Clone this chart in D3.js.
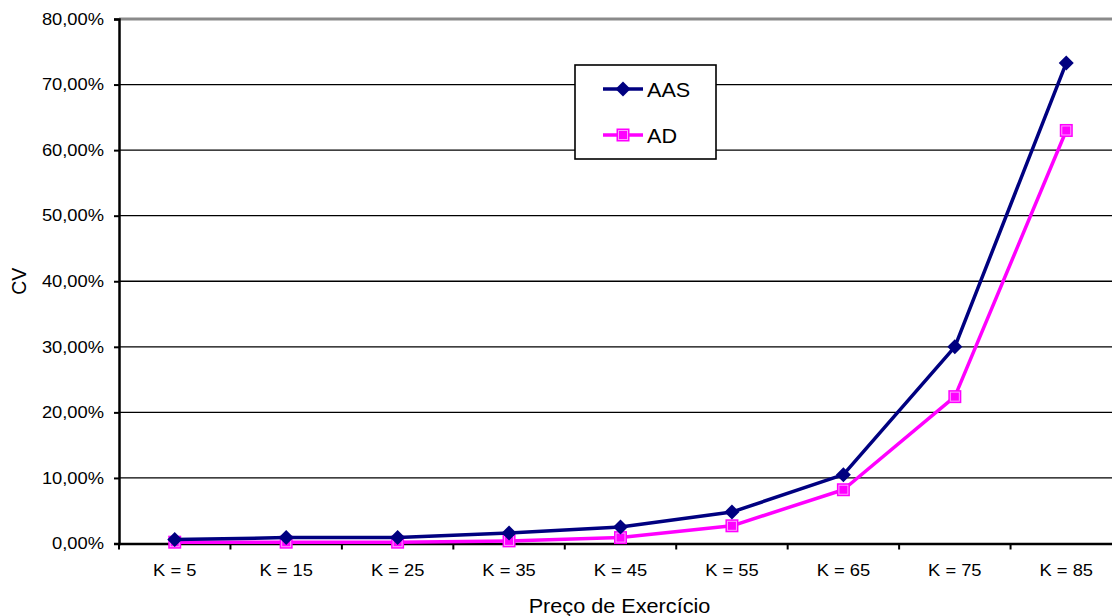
<!DOCTYPE html>
<html>
<head>
<meta charset="utf-8">
<script src="https://cdn.jsdelivr.net/npm/d3@7"></script>
<style>
  html, body { margin: 0; padding: 0; background: #fff; }
  svg { display: block; font-family: "Liberation Sans", Arial, sans-serif; }
</style>
</head>
<body>
<svg id="chart" width="1112" height="616"></svg>
<script>
// Coefficient of variation by strike price, two estimators
const categories = ["K = 5", "K = 15", "K = 25", "K = 35", "K = 45", "K = 55", "K = 65", "K = 75", "K = 85"];
const aasValues = [0.006, 0.009, 0.009, 0.016, 0.025, 0.048, 0.105, 0.300, 0.733];
const adValues  = [0.002, 0.002, 0.002, 0.004, 0.009, 0.027, 0.082, 0.224, 0.630];
const yTicks = [0, 0.1, 0.2, 0.3, 0.4, 0.5, 0.6, 0.7, 0.8];
const seriesNames = ["AAS", "AD"];

const svg = d3.select("#chart");
const plot = { left: 119, top: 19, right: 1122, bottom: 543.5 };

// widen glyphs horizontally (the chart's type is set slightly wide)
function widen(sel, factor) {
  sel.each(function () {
    const w = this.getComputedTextLength();
    this.setAttribute("textLength", w * factor);
    this.setAttribute("lengthAdjust", "spacingAndGlyphs");
  });
}

const x = d3.scaleBand().domain(categories).range([plot.left, plot.right]).padding(0);
const y = d3.scaleLinear().domain([0, 0.8]).range([plot.bottom, plot.top]);

const pt = d3.formatLocale({ decimal: ",", thousands: ".", grouping: [3], currency: ["R$", ""] });
const pctFmt = pt.format(".2%");

// gridlines
svg.append("g")
  .selectAll("line")
  .data(yTicks.filter(v => v > 0 && v < 0.8))
  .join("line")
  .attr("x1", plot.left).attr("x2", plot.right)
  .attr("y1", d => y(d)).attr("y2", d => y(d))
  .attr("stroke", "#000").attr("stroke-width", 1.3);

// top border of plot area
svg.append("line")
  .attr("x1", plot.left).attr("x2", plot.right)
  .attr("y1", y(0.8)).attr("y2", y(0.8))
  .attr("stroke", "#8a8a8a").attr("stroke-width", 3);

// y axis
const yAxis = d3.axisLeft(y).tickValues(yTicks).tickFormat(pctFmt).tickSize(5).tickPadding(10);
const gy = svg.append("g").attr("transform", `translate(${plot.left},0)`).call(yAxis);
gy.select(".domain").attr("stroke", "#000").attr("stroke-width", 2.5);
gy.selectAll(".tick line").attr("stroke", "#000").attr("stroke-width", 2);
gy.selectAll(".tick text").attr("font-size", 16.5).attr("fill", "#000")
  .attr("font-family", "Liberation Sans, Arial, sans-serif")
  .call(widen, 1.11);

// x axis (ticks between categories)
const xAxis = d3.axisBottom(x).tickSize(0).tickPadding(21);
const gx = svg.append("g").attr("transform", `translate(0,${plot.bottom})`).call(xAxis);
gx.select(".domain").attr("stroke", "#000").attr("stroke-width", 2.5);
gx.selectAll(".tick text").attr("font-size", 16.5).attr("fill", "#000")
  .attr("font-family", "Liberation Sans, Arial, sans-serif")
  .call(widen, 1.11);
gx.append("g").selectAll("line")
  .data(categories)
  .join("line")
  .attr("x1", d => x(d)).attr("x2", d => x(d))
  .attr("y1", 0).attr("y2", 6)
  .attr("stroke", "#000").attr("stroke-width", 2);

// axis titles
svg.append("text")
  .attr("x", (plot.left + plot.right) / 2 - 1).attr("y", 613)
  .attr("text-anchor", "middle").attr("font-size", 19.5).text("Preço de Exercício")
  .call(widen, 1.11);
svg.append("text")
  .attr("transform", `translate(26,${(plot.top + plot.bottom) / 2}) rotate(-90)`)
  .attr("text-anchor", "middle").attr("font-size", 19.5).text("CV");

const cx = d => x(d) + x.bandwidth() / 2;
const line = d3.line().x(d => cx(d.k)).y(d => y(d.v));

const aasData = categories.map((k, i) => ({ k, v: aasValues[i] }));
const adData = categories.map((k, i) => ({ k, v: adValues[i] }));

const navy = "#000080", magenta = "#FF00FF";

function diamond(g, px, py) {
  g.append("path")
    .attr("d", `M${px},${py - 7.5}L${px + 7.5},${py}L${px},${py + 7.5}L${px - 7.5},${py}Z`)
    .attr("fill", navy);
}
function square(g, px, py) {
  g.append("rect").attr("x", px - 6.5).attr("y", py - 6.5).attr("width", 13).attr("height", 13)
    .attr("fill", magenta);
  g.append("rect").attr("x", px - 4.5).attr("y", py - 4.5).attr("width", 9).attr("height", 9)
    .attr("fill", "none").attr("stroke", "#ff9cff").attr("stroke-width", 1);
}

// AD series
svg.append("path").datum(adData).attr("d", line)
  .attr("fill", "none").attr("stroke", magenta).attr("stroke-width", 3.5).attr("stroke-linejoin", "round");
const adMarks = svg.append("g");
adData.forEach(d => square(adMarks, cx(d.k), y(d.v)));

// AAS series
svg.append("path").datum(aasData).attr("d", line)
  .attr("fill", "none").attr("stroke", navy).attr("stroke-width", 3.5).attr("stroke-linejoin", "round");
const aasMarks = svg.append("g");
aasData.forEach(d => diamond(aasMarks, cx(d.k), y(d.v)));

// legend
const lg = svg.append("g");
lg.append("rect").attr("x", 575).attr("y", 65).attr("width", 141).attr("height", 94)
  .attr("fill", "#fff").attr("stroke", "#000").attr("stroke-width", 1.6);
const legendRows = [
  { name: seriesNames[0], color: navy, y: 89, mark: diamond },
  { name: seriesNames[1], color: magenta, y: 135, mark: square }
];
legendRows.forEach(r => {
  lg.append("line").attr("x1", 603).attr("x2", 643).attr("y1", r.y).attr("y2", r.y)
    .attr("stroke", r.color).attr("stroke-width", 3.5);
  r.mark(lg, 623, r.y);
  lg.append("text").attr("x", 647).attr("y", r.y + 7.5).attr("font-size", 20).text(r.name)
    .call(widen, 1.08);
});
</script>
</body>
</html>
